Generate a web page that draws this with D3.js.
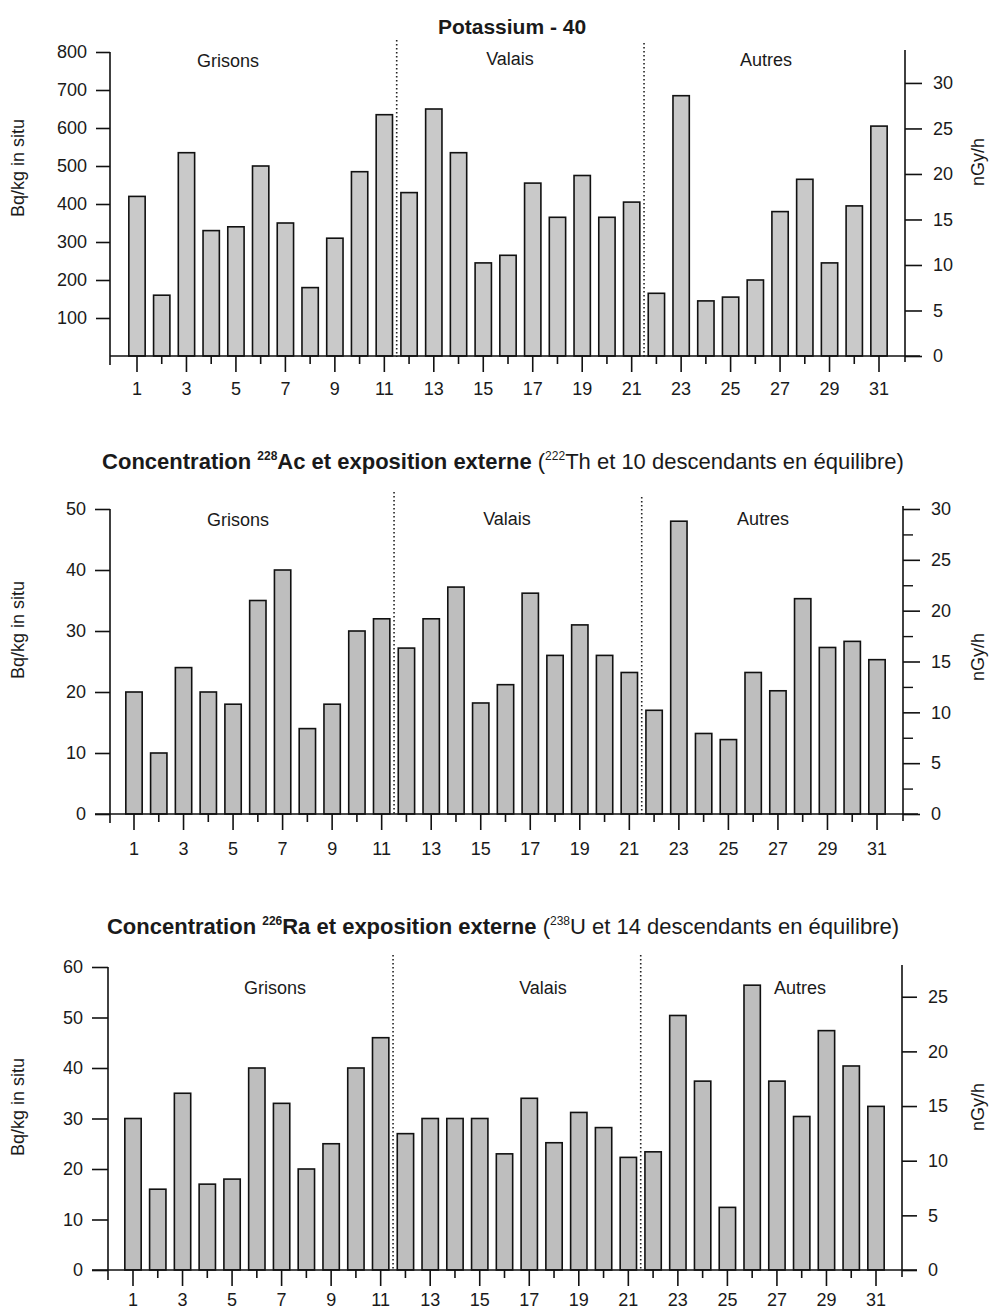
<!DOCTYPE html>
<html>
<head>
<meta charset="utf-8">
<script src="https://cdn.jsdelivr.net/npm/d3@7"></script>
<style>
  html, body { margin: 0; padding: 0; background: #fff; }
  svg { display: block; }
  text { font-family: "Liberation Sans", Arial, sans-serif; fill: #1a1a1a; }
</style>
</head>
<body>
<svg id="chart" width="990" height="1311"></svg>
<script>
// ---------------- DATA ----------------
const sites = [1,2,3,4,5,6,7,8,9,10,11,12,13,14,15,16,17,18,19,20,21,22,23,24,25,26,27,28,29,30,31];
const groups = ["Grisons", "Valais", "Autres"];
const groupBreaks = [11, 21]; // separators after these sites

const k40 = [420,160,535,330,340,500,350,180,310,485,635,430,650,535,245,265,455,365,475,365,405,165,685,145,155,200,380,465,245,395,605];
const ac228 = [20,10,24,20,18,35,40,14,18,30,32,27.2,32,37.2,18.2,21.2,36.2,26,31,26,23.2,17,48,13.2,12.2,23.2,20.2,35.3,27.3,28.3,25.3];
const ra226 = [30,16,35,17,18,40,33,20,25,40,46,27,30,30,30,23,34,25.2,31.2,28.2,22.3,23.4,50.4,37.4,12.4,56.4,37.4,30.4,47.4,40.4,32.4];

const k40LeftTicks = [100,200,300,400,500,600,700,800];
const k40RightTicks = [0,5,10,15,20,25,30];
const acLeftTicks = [0,10,20,30,40,50];
const acRightTicks = [0,5,10,15,20,25,30];
const acRightMinor = [2.5,7.5,12.5,17.5,22.5,27.5];
const raLeftTicks = [0,10,20,30,40,50,60];
const raRightTicks = [0,5,10,15,20,25];
const bottomLabels = [1,3,5,7,9,11,13,15,17,19,21,23,25,27,29,31];

const leftTitle = "Bq/kg in situ";
const rightTitle = "nGy/h";

// ---------------- LAYOUT ----------------
const svg = d3.select("#chart");
const TICKFONT = 18;

const panels = [
  {
    values: k40, leftMax: 800, rightMax: 33.4,
    leftTicks: k40LeftTicks, rightTicks: k40RightTicks, rightMinor: [],
    top: 52, base: 356, leftX: 110, rightX: 905, xFirst: 137, xLast: 879,
    leftAxisTop: 52, leftAxisBottom: 365, rightAxisTop: 50, rightAxisBottom: 362,
    leftTickLen: 14, rightTickLen: 17, baseLeft: 110,
    sepTop: [40, 43], sepBottom: 357,
    groupX: [228, 510, 766], groupY: [67, 65, 66],
    bottomLabelY: 395, leftTitleY: 168, rightTitleY: 162,
    fill: "#c9c9c9",
    title: "k40", titleY: 34
  },
  {
    values: ac228, leftMax: 50, rightMax: 30,
    leftTicks: acLeftTicks, rightTicks: acRightTicks, rightMinor: acRightMinor,
    top: 509, base: 814, leftX: 110, rightX: 903, xFirst: 134, xLast: 877,
    leftAxisTop: 509, leftAxisBottom: 823, rightAxisTop: 506, rightAxisBottom: 821,
    leftTickLen: 15, rightTickLen: 17, baseLeft: 95,
    sepTop: [492, 497], sepBottom: 814,
    groupX: [238, 507, 763], groupY: [526, 525, 525],
    bottomLabelY: 855, leftTitleY: 630, rightTitleY: 657,
    fill: "#bebebe",
    title: "ac", titleY: 469
  },
  {
    values: ra226, leftMax: 60, rightMax: 27.72,
    leftTicks: raLeftTicks, rightTicks: raRightTicks, rightMinor: [],
    top: 967, base: 1270, leftX: 108, rightX: 902, xFirst: 133, xLast: 876,
    leftAxisTop: 967, leftAxisBottom: 1280, rightAxisTop: 965, rightAxisBottom: 1277,
    leftTickLen: 16, rightTickLen: 15, baseLeft: 92,
    sepTop: [955, 955], sepBottom: 1270,
    groupX: [275, 543, 800], groupY: [994, 994, 994],
    bottomLabelY: 1306, leftTitleY: 1107, rightTitleY: 1107,
    fill: "#bebebe",
    title: "ra", titleY: 934
  }
];

// ---------------- TITLES ----------------
function drawTitle(p) {
  if (p.title === "k40") {
    svg.append("text").attr("x", 512).attr("y", p.titleY)
      .attr("text-anchor", "middle").attr("font-size", 21).attr("font-weight", "bold")
      .text("Potassium - 40");
    return;
  }
  const parts = p.title === "ac"
    ? [["Concentration ", "bold", false], ["228", "bold", true], ["Ac et exposition externe", "bold", false],
       [" (", "normal", false], ["222", "normal", true], ["Th et 10 descendants en équilibre)", "normal", false]]
    : [["Concentration ", "bold", false], ["226", "bold", true], ["Ra et exposition externe", "bold", false],
       [" (", "normal", false], ["238", "normal", true], ["U et 14 descendants en équilibre)", "normal", false]];
  const t = svg.append("text").attr("x", 503).attr("y", p.titleY)
    .attr("text-anchor", "middle").attr("font-size", 22);
  parts.forEach((part, i) => {
    const [s, w, sup] = part;
    const ts = t.append("tspan").attr("font-weight", w).text(s);
    if (sup) ts.attr("font-size", 12).attr("dy", -9);
    else if (i > 0 && parts[i - 1][2]) ts.attr("dy", 9);
  });
}

// ---------------- PANELS ----------------
panels.forEach(p => {
  const g = svg.append("g");
  const step = (p.xLast - p.xFirst) / (sites.length - 1);
  const x = d3.scaleBand()
    .domain(sites)
    .range([p.xFirst - step / 2, p.xLast + step / 2])
    .paddingInner(0.34).paddingOuter(0.17);
  const y = d3.scaleLinear().domain([0, p.leftMax]).range([p.base, p.top]);
  const yR = d3.scaleLinear().domain([0, p.rightMax]).range([p.base, p.top]);

  drawTitle(p);

  // bars
  g.selectAll("rect.bar").data(p.values).join("rect")
    .attr("class", "bar")
    .attr("x", (d, i) => x(sites[i]))
    .attr("width", x.bandwidth())
    .attr("y", d => y(d))
    .attr("height", d => p.base - y(d))
    .attr("fill", p.fill)
    .attr("stroke", "#111")
    .attr("stroke-width", 1.6);

  // separators
  groupBreaks.forEach((b, k) => {
    const sx = (x(b) + x.bandwidth() + x(b + 1)) / 2;
    g.append("line")
      .attr("x1", sx).attr("x2", sx)
      .attr("y1", p.sepTop[k]).attr("y2", p.sepBottom)
      .attr("stroke", "#222").attr("stroke-width", 1.6)
      .attr("stroke-dasharray", "1.5,2.5");
  });

  // group labels
  groups.forEach((name, k) => {
    g.append("text").attr("x", p.groupX[k]).attr("y", p.groupY[k])
      .attr("text-anchor", "middle").attr("font-size", 18).text(name);
  });

  // baseline
  g.append("line")
    .attr("x1", p.baseLeft).attr("x2", p.rightX + 15)
    .attr("y1", p.base).attr("y2", p.base)
    .attr("stroke", "#111").attr("stroke-width", 1.6);

  // left axis
  const la = d3.axisLeft(y).tickValues(p.leftTicks).tickSize(p.leftTickLen).tickPadding(9).tickSizeOuter(0);
  const lag = g.append("g").attr("transform", `translate(${p.leftX},0)`).call(la);
  lag.select(".domain").remove();
  lag.selectAll(".tick line").attr("stroke", "#111").attr("stroke-width", 1.6);
  lag.selectAll(".tick text").attr("font-size", TICKFONT).attr("font-family", "Liberation Sans, Arial, sans-serif").attr("fill", "#1a1a1a");
  g.append("line").attr("x1", p.leftX).attr("x2", p.leftX)
    .attr("y1", p.leftAxisTop).attr("y2", p.leftAxisBottom)
    .attr("stroke", "#111").attr("stroke-width", 1.6);

  // right axis
  const ra = d3.axisRight(yR).tickValues(p.rightTicks).tickSize(p.rightTickLen).tickPadding(11).tickSizeOuter(0);
  const rag = g.append("g").attr("transform", `translate(${p.rightX},0)`).call(ra);
  rag.select(".domain").remove();
  rag.selectAll(".tick line").attr("stroke", "#111").attr("stroke-width", 1.6);
  rag.selectAll(".tick text").attr("font-size", TICKFONT).attr("font-family", "Liberation Sans, Arial, sans-serif").attr("fill", "#1a1a1a");
  if (p.rightMinor.length) {
    const rm = d3.axisRight(yR).tickValues(p.rightMinor).tickSize(10).tickFormat("");
    const rmg = g.append("g").attr("transform", `translate(${p.rightX},0)`).call(rm);
    rmg.select(".domain").remove();
    rmg.selectAll(".tick line").attr("stroke", "#111").attr("stroke-width", 1.4);
  }
  g.append("line").attr("x1", p.rightX).attr("x2", p.rightX)
    .attr("y1", p.rightAxisTop).attr("y2", p.rightAxisBottom)
    .attr("stroke", "#111").attr("stroke-width", 1.6);

  // bottom ticks
  const xc = d => x(d) + x.bandwidth() / 2;
  g.selectAll("line.xt").data(sites).join("line")
    .attr("class", "xt")
    .attr("x1", d => xc(d)).attr("x2", d => xc(d))
    .attr("y1", p.base).attr("y2", d => p.base + (d % 2 === 1 ? 16 : 8))
    .attr("stroke", "#111").attr("stroke-width", 1.6);
  g.selectAll("text.xl").data(bottomLabels).join("text")
    .attr("class", "xl")
    .attr("x", d => xc(d)).attr("y", p.bottomLabelY)
    .attr("text-anchor", "middle").attr("font-size", TICKFONT)
    .text(d => d);

  // axis titles
  g.append("text")
    .attr("transform", `translate(24,${p.leftTitleY}) rotate(-90)`)
    .attr("text-anchor", "middle").attr("font-size", 18).text(leftTitle);
  g.append("text")
    .attr("transform", `translate(984,${p.rightTitleY}) rotate(-90)`)
    .attr("text-anchor", "middle").attr("font-size", 18).text(rightTitle);
});
</script>
</body>
</html>
